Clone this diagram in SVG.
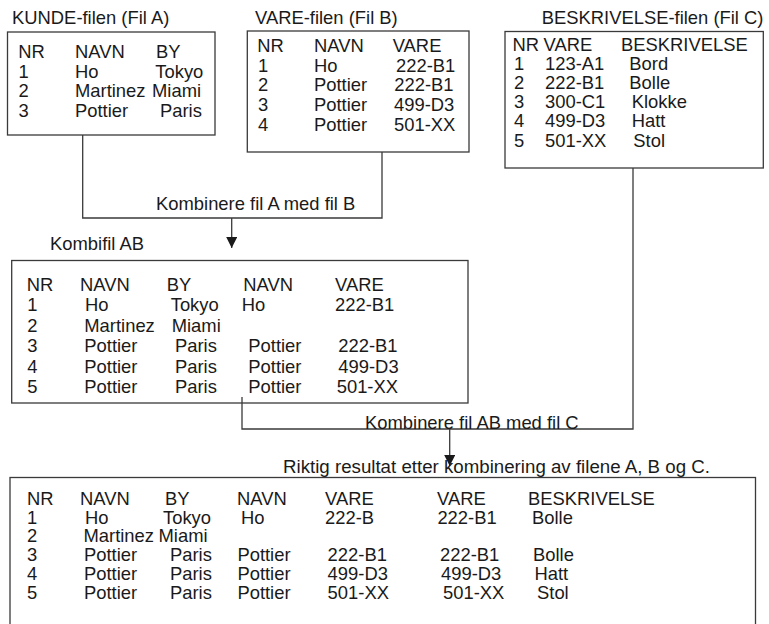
<svg xmlns="http://www.w3.org/2000/svg" width="769" height="624" viewBox="0 0 769 624">
<style>
text{font-family:"Liberation Sans",Arial,Helvetica,sans-serif;font-size:18.4px;fill:#1a1a1a}
.box{fill:none;stroke:#3a3a3a;stroke-width:1.3}
.line{fill:none;stroke:#3a3a3a;stroke-width:1.3}
</style>
<defs>
<marker id="arrow" viewBox="0 0 11 11" refX="11" refY="5.5" markerWidth="11" markerHeight="11" markerUnits="userSpaceOnUse" orient="auto">
<path d="M0,0 L11,5.5 L0,11 Z" fill="#1a1a1a"/>
</marker>
</defs>
<rect width="769" height="624" fill="#ffffff"/>

<g id="connectors">
<path class="line" d="M82.7,135 V218 H382 V152"/>
<path class="line" d="M231.7,218 V248" marker-end="url(#arrow)"/>
<path class="line" d="M242,397 V429 H633 V168"/>
<path class="line" d="M449.7,429 V466" marker-end="url(#arrow)"/>
<text x="156" y="210">Kombinere fil A med fil B</text>
<text x="365" y="429">Kombinere fil AB med fil C</text>
</g>

<g id="node-A">
<text x="12" y="24">KUNDE-filen (Fil A)</text>
<rect class="box" x="7.5" y="32" width="207.5" height="103"/>
<text x="18.3" y="58">NR</text><text x="75" y="58">NAVN</text><text x="156" y="58">BY</text>
<text x="18.5" y="77.5">1</text><text x="75" y="77.5">Ho</text><text x="155.3" y="77.5">Tokyo</text>
<text x="18.5" y="97">2</text><text x="75" y="97">Martinez</text><text x="152" y="97">Miami</text>
<text x="18.5" y="116.5">3</text><text x="75" y="116.5">Pottier</text><text x="160" y="116.5">Paris</text>
</g>

<g id="node-B">
<text x="255" y="23.5">VARE-filen (Fil B)</text>
<rect class="box" x="247.3" y="31" width="221.7" height="121"/>
<text x="257.3" y="52">NR</text><text x="314" y="52">NAVN</text><text x="392.7" y="52">VARE</text>
<text x="258" y="71.7">1</text><text x="314" y="71.7">Ho</text><text x="396" y="71.7">222-B1</text>
<text x="258" y="91.4">2</text><text x="314" y="91.4">Pottier</text><text x="394.3" y="91.4">222-B1</text>
<text x="258" y="111.1">3</text><text x="314" y="111.1">Pottier</text><text x="394" y="111.1">499-D3</text>
<text x="258" y="130.8">4</text><text x="314" y="130.8">Pottier</text><text x="394" y="130.8">501-XX</text>
</g>

<g id="node-C">
<text x="541.7" y="24">BESKRIVELSE-filen (Fil C)</text>
<rect class="box" x="505" y="31.5" width="258.3" height="136.5"/>
<text x="512.5" y="50.5">NR</text><text x="543.5" y="50.5">VARE</text><text x="621" y="50.5">BESKRIVELSE</text>
<text x="514" y="69.7">1</text><text x="545" y="69.7">123-A1</text><text x="629.3" y="69.7">Bord</text>
<text x="514" y="88.9">2</text><text x="545" y="88.9">222-B1</text><text x="629.3" y="88.9">Bolle</text>
<text x="514" y="108.1">3</text><text x="545" y="108.1">300-C1</text><text x="631.7" y="108.1">Klokke</text>
<text x="514" y="127.3">4</text><text x="545" y="127.3">499-D3</text><text x="631.7" y="127.3">Hatt</text>
<text x="514" y="146.5">5</text><text x="545" y="146.5">501-XX</text><text x="633.3" y="146.5">Stol</text>
</g>

<g id="node-AB">
<text x="50" y="250">Kombifil AB</text>
<rect class="box" x="11.7" y="260.5" width="456.3" height="142.5"/>
<text x="26.7" y="291">NR</text><text x="80" y="291">NAVN</text><text x="166.7" y="291">BY</text><text x="243.3" y="291">NAVN</text><text x="335" y="291">VARE</text>
<text x="27.3" y="311.4">1</text><text x="85" y="311.4">Ho</text><text x="170.7" y="311.4">Tokyo</text><text x="241.7" y="311.4">Ho</text><text x="335" y="311.4">222-B1</text>
<text x="27.3" y="331.8">2</text><text x="84.3" y="331.8">Martinez</text><text x="171.7" y="331.8">Miami</text>
<text x="27.3" y="352.2">3</text><text x="84.3" y="352.2">Pottier</text><text x="175" y="352.2">Paris</text><text x="248.3" y="352.2">Pottier</text><text x="338.3" y="352.2">222-B1</text>
<text x="27.3" y="372.6">4</text><text x="84.3" y="372.6">Pottier</text><text x="175" y="372.6">Paris</text><text x="248.3" y="372.6">Pottier</text><text x="338.3" y="372.6">499-D3</text>
<text x="27.3" y="393">5</text><text x="84.3" y="393">Pottier</text><text x="175" y="393">Paris</text><text x="248.3" y="393">Pottier</text><text x="336.7" y="393">501-XX</text>
</g>

<g id="node-result">
<text x="283" y="473" style="font-size:18.7px">Riktig resultat etter kombinering av filene A, B og C.</text>
<rect class="box" x="10" y="477.5" width="745.5" height="160"/>
<text x="27" y="505">NR</text><text x="80" y="505">NAVN</text><text x="165" y="505">BY</text><text x="237" y="505">NAVN</text><text x="325" y="505">VARE</text><text x="437" y="505">VARE</text><text x="528" y="505">BESKRIVELSE</text>
<text x="27" y="523.7">1</text><text x="85" y="523.7">Ho</text><text x="163" y="523.7">Tokyo</text><text x="241" y="523.7">Ho</text><text x="325" y="523.7">222-B</text><text x="437.4" y="523.7">222-B1</text><text x="532" y="523.7">Bolle</text>
<text x="27" y="542.4">2</text><text x="83.5" y="542.4">Martinez</text><text x="158.5" y="542.4">Miami</text>
<text x="27" y="561.1">3</text><text x="84" y="561.1">Pottier</text><text x="170" y="561.1">Paris</text><text x="237.4" y="561.1">Pottier</text><text x="327.6" y="561.1">222-B1</text><text x="440" y="561.1">222-B1</text><text x="533" y="561.1">Bolle</text>
<text x="27" y="579.8">4</text><text x="84" y="579.8">Pottier</text><text x="170" y="579.8">Paris</text><text x="237.4" y="579.8">Pottier</text><text x="327.6" y="579.8">499-D3</text><text x="441" y="579.8">499-D3</text><text x="534.5" y="579.8">Hatt</text>
<text x="27" y="598.5">5</text><text x="84" y="598.5">Pottier</text><text x="170" y="598.5">Paris</text><text x="237.4" y="598.5">Pottier</text><text x="327.6" y="598.5">501-XX</text><text x="443" y="598.5">501-XX</text><text x="537" y="598.5">Stol</text>
</g>
</svg>
